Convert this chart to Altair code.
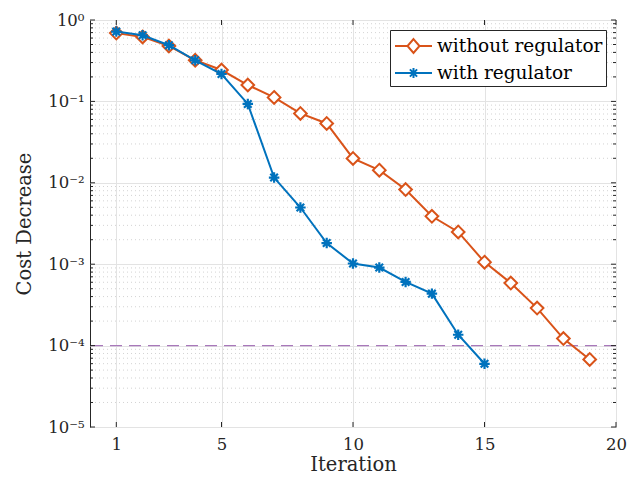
import altair as alt
import pandas as pd

# ---- data ----
iter_without = list(range(1, 20))
cost_without = [0.69, 0.62, 0.48, 0.32, 0.243, 0.159, 0.112, 0.0711, 0.0536, 0.0199,
                0.0143, 0.00826, 0.00388, 0.00249, 0.00106, 0.000587, 0.000289,
                0.000122, 0.0000676]
iter_with = list(range(1, 16))
cost_with = [0.72, 0.65, 0.49, 0.32, 0.217, 0.093, 0.0116, 0.00497, 0.00182, 0.00102,
             0.00091, 0.000605, 0.000435, 0.000136, 0.0000598]
series_names = ["without regulator", "with regulator"]
series_colors = ["#D95319", "#0072BD"]
threshold = [1e-4]
x_ticks = [1, 5, 10, 15, 20]
y_major = [1e-5, 1e-4, 1e-3, 1e-2, 1e-1, 1.0]
y_minor = [k * 10.0 ** d for d in range(-5, 0) for k in range(2, 10)]
y_tick_text = ["10⁰", "10⁻¹", "10⁻²", "10⁻³", "10⁻⁴", "10⁻⁵"]

df_o = pd.DataFrame({"Iteration": iter_without, "Cost": cost_without, "series": series_names[0]})
df_b = pd.DataFrame({"Iteration": iter_with, "Cost": cost_with, "series": series_names[1]})
df_all = pd.concat([df_o, df_b], ignore_index=True)

W, H = 526, 407
FONT = "DejaVu Serif"
AX = "#262626"

xs = alt.Scale(domain=[0, 20], nice=False, zero=False)
ys = alt.Scale(type="log", domain=[1e-5, 1], nice=False)

diamond = "M0,-1L1,0L0,1L-1,0Z"
aster = "M0,-1L0,1M-1,0L1,0M-0.72,-0.72L0.72,0.72M-0.72,0.72L0.72,-0.72"
leg_diamond = "M-1.54,0L-0.5,0M0.5,0L1.54,0M0,-0.58L0.5,0L0,0.58L-0.5,0Z"
leg_aster = ("M-1.54,0L1.54,0M0,-0.42L0,0.42M-0.3,-0.3L0.3,0.3M-0.3,0.3L0.3,-0.3")

label_expr = "[" + ",".join("'%s'" % t for t in y_tick_text) + "][round(-log(datum.value)/LN10)]"

x_axis = alt.Axis(values=x_ticks, title="Iteration", grid=True, gridColor="#e3e3e3",
                  gridWidth=1, domain=False, ticks=False, labelPadding=9,
                  labelFontSize=16.5, titleFontSize=19.5, labelFlush=False,
                  titleX=W / 2, titleY=43, titleBaseline="alphabetic")
y_axis = alt.Axis(values=y_major, title="Cost Decrease", grid=True, gridColor="#e3e3e3",
                  gridWidth=1, domain=False, ticks=False, labelPadding=6,
                  labelFontSize=16.5, titleFontSize=19.5, labelExpr=label_expr,
                  titleX=-60, titleY=H / 2, titleBaseline="alphabetic",
                  titleAngle=270, titleAlign="center")


def X(field):
    return alt.X(field, scale=xs, axis=x_axis)


def Y(field):
    return alt.Y(field, scale=ys, axis=y_axis)


minor_grid = alt.Chart(pd.DataFrame({"v": y_minor})).mark_rule(
    color="#c8c8c8", strokeDash=[1, 3], strokeWidth=0.8
).encode(y=Y("v:Q"))

thr = alt.Chart(pd.DataFrame({"v": threshold})).mark_rule(
    color="#A878BA", strokeDash=[12, 7], strokeWidth=1.4, opacity=1
).encode(y=Y("v:Q"))

line_o = alt.Chart(df_o).mark_line(color=series_colors[0], strokeWidth=2).encode(
    x=X("Iteration:Q"), y=Y("Cost:Q"))
pts_o = alt.Chart(df_o).mark_point(
    shape=diamond, size=160, filled=True, fill="white", stroke=series_colors[0],
    strokeWidth=2, opacity=1
).encode(x=X("Iteration:Q"), y=Y("Cost:Q"))
line_b = alt.Chart(df_b).mark_line(color=series_colors[1], strokeWidth=2).encode(
    x=X("Iteration:Q"), y=Y("Cost:Q"))
pts_b = alt.Chart(df_b).mark_point(
    shape=aster, size=110, filled=False, stroke=series_colors[1],
    strokeWidth=2.2, opacity=1
).encode(x=X("Iteration:Q"), y=Y("Cost:Q"))

# inward box ticks
xt = pd.DataFrame({"v": x_ticks})
yM = pd.DataFrame({"v": y_major})
ym = pd.DataFrame({"v": y_minor})
tick_b = alt.Chart(xt).mark_rule(color=AX).encode(
    x=X("v:Q"), y=alt.value(H), y2=alt.value(H - 5))
tick_t = alt.Chart(xt).mark_rule(color=AX).encode(
    x=X("v:Q"), y=alt.value(0), y2=alt.value(5))
tick_l = alt.Chart(yM).mark_rule(color=AX).encode(
    y=Y("v:Q"), x=alt.value(0), x2=alt.value(5))
tick_r = alt.Chart(yM).mark_rule(color=AX).encode(
    y=Y("v:Q"), x=alt.value(W), x2=alt.value(W - 5))
mtick_l = alt.Chart(ym).mark_rule(color=AX).encode(
    y=Y("v:Q"), x=alt.value(0), x2=alt.value(3))
mtick_r = alt.Chart(ym).mark_rule(color=AX).encode(
    y=Y("v:Q"), x=alt.value(W), x2=alt.value(W - 3))

leg = alt.Legend(orient="top-right", offset=10, title=None, strokeColor=AX,
                 fillColor="white", padding=3, symbolSize=576, symbolStrokeWidth=2,
                 symbolOffset=7.5, labelOffset=10.5, rowPadding=3, labelLimit=400,
                 labelFont=FONT, labelFontSize=18.5, labelColor="black",
                 cornerRadius=0, symbolFillColor="white")
legend_layer = alt.Chart(df_all).transform_filter("false").mark_point(
    filled=False, strokeWidth=2, opacity=1
).encode(
    x=X("Iteration:Q"),
    y=Y("Cost:Q"),
    color=alt.Color("series:N", scale=alt.Scale(domain=series_names, range=series_colors), legend=leg),
    shape=alt.Shape("series:N", scale=alt.Scale(domain=series_names, range=[leg_diamond, leg_aster]), legend=leg),
)

chart = alt.layer(
    minor_grid, thr, line_o, pts_o, line_b, pts_b,
    tick_b, tick_t, tick_l, tick_r, mtick_l, mtick_r, legend_layer
).properties(
    width=W, height=H,
    autosize=alt.AutoSizeParams(type="none"),
    padding={"left": 82, "top": 12, "right": 12, "bottom": 48},
).configure_view(
    stroke=AX, strokeWidth=1
).configure_axis(
    labelFont=FONT, titleFont=FONT, labelColor=AX, titleColor=AX, titleFontWeight="normal"
)

chart.save("out.html", embed_options={"renderer": "svg", "actions": False})
